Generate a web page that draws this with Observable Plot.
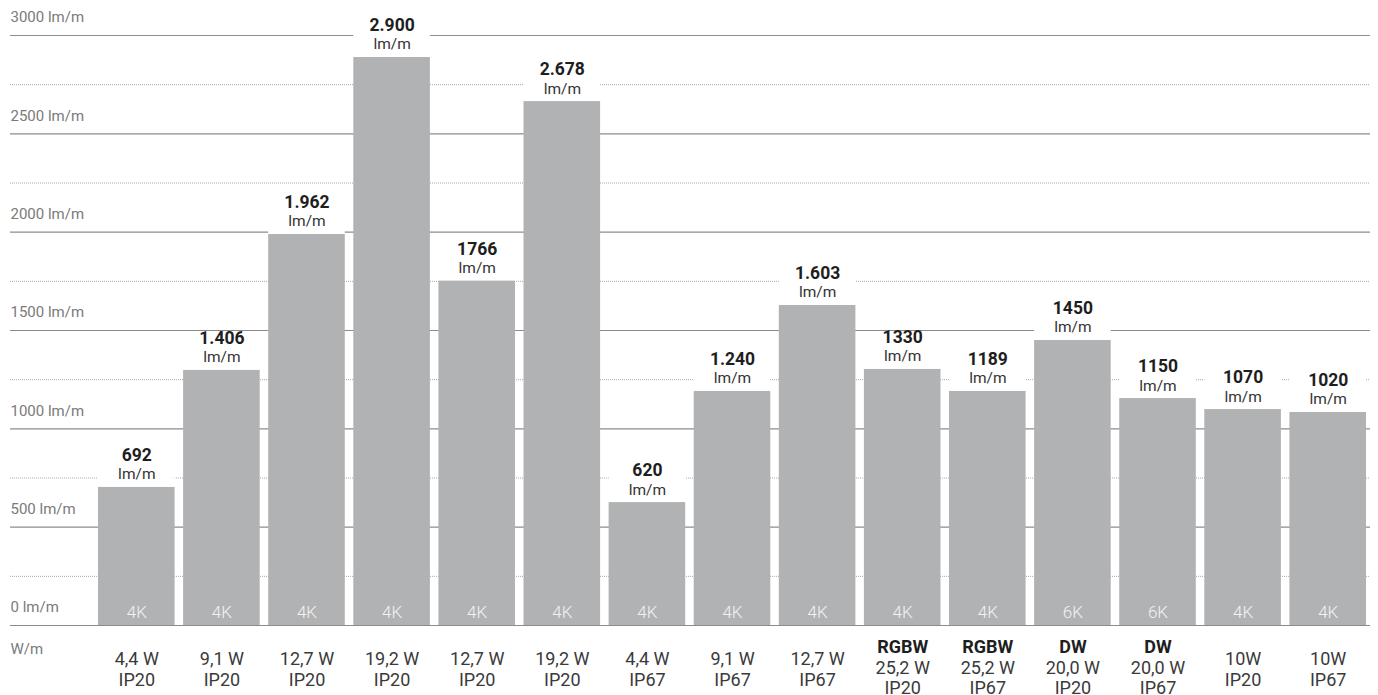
<!DOCTYPE html>
<html>
<head>
<meta charset="utf-8">
<script src="https://cdn.jsdelivr.net/npm/d3@7"></script>
<script src="https://cdn.jsdelivr.net/npm/@observablehq/plot@0.6"></script>
<style>
  html, body { margin: 0; padding: 0; background: #fff; }
  #chart svg { display: block; }
</style>
</head>
<body>
<div id="chart"></div>
<script>
// ---- data ----
const ids        = [1, 2, 3, 4, 5, 6, 7, 8, 9, 10, 11, 12, 13, 14, 15];
const barHeights = [702, 1297, 1988, 2888, 1751, 2664, 625, 1190, 1627, 1302, 1190, 1449, 1154, 1098, 1083];
const valueLabels = ["692", "1.406", "1.962", "2.900", "1766", "2.678", "620", "1.240", "1.603", "1330", "1189", "1450", "1150", "1070", "1020"];
const colorTemps = ["4K", "4K", "4K", "4K", "4K", "4K", "4K", "4K", "4K", "4K", "4K", "6K", "6K", "4K", "4K"];
const types      = ["", "", "", "", "", "", "", "", "", "RGBW", "RGBW", "DW", "DW", "", ""];
const watts      = ["4,4 W", "9,1 W", "12,7 W", "19,2 W", "12,7 W", "19,2 W", "4,4 W", "9,1 W", "12,7 W", "25,2 W", "25,2 W", "20,0 W", "20,0 W", "10W", "10W"];
const protections = ["IP20", "IP20", "IP20", "IP20", "IP20", "IP20", "IP67", "IP67", "IP67", "IP20", "IP67", "IP20", "IP67", "IP20", "IP67"];
const majorTicks = [0, 500, 1000, 1500, 2000, 2500, 3000];
const minorTicks = [250, 750, 1250, 1750, 2250, 2750];
const yUnit = "lm/m";
const xUnit = "W/m";

const data = ids.map((id, i) => ({
  id, h: barHeights[i], label: valueLabels[i], temp: colorTemps[i],
  type: types[i], watt: watts[i], ip: protections[i]
}));
const typed = data.filter(d => d.type);
const untyped = data.filter(d => !d.type);

const barFill = "#b1b2b4";
const labelPad = 185; // white knock-out above each bar (in data units)

const chart = Plot.plot({
  width: 1378,
  height: 695,
  marginLeft: 10,
  marginRight: 8,
  marginTop: 35,
  marginBottom: 70,
  style: { fontFamily: "Roboto, 'DejaVu Sans', sans-serif", background: "#fff" },
  x: { type: "band", domain: ids, range: [98, 1366], paddingInner: 0.1, paddingOuter: 0, round: false, axis: null },
  y: { domain: [0, 3000], range: [625, 35], axis: null },
  marks: [
    Plot.ruleY(minorTicks, { stroke: "#a8a8a8", strokeWidth: 1, strokeDasharray: "1,1" }),
    Plot.ruleY(majorTicks, { stroke: "#8c8c8c", strokeWidth: 1.2 }),
    Plot.text(majorTicks, { y: d => d, frameAnchor: "left", textAnchor: "start", dy: -18, text: d => `${d} ${yUnit}`, fill: "#7a7a7a", fontSize: 15 }),
    Plot.rectY(data, { x: "id", y1: d => d.h, y2: d => d.h + labelPad, fill: "#fff" }),
    Plot.rectY(data, { x: "id", y1: 0, y2: "h", fill: barFill }),
    Plot.text(data, { x: "id", y: "h", text: "label", dy: -32, fontWeight: "bold", fontSize: 17.5, fill: "#1e1e1e" }),
    Plot.text(data, { x: "id", y: "h", text: () => yUnit, dy: -13, fontSize: 15.5, fill: "#333" }),
    Plot.text(data, { x: "id", y: 0, text: "temp", dy: -13, fontSize: 17, fontWeight: 300, fill: "#f2f2f2" }),
    Plot.text([xUnit], { frameAnchor: "left", y: () => 0, textAnchor: "start", dy: 24, text: d => d, fill: "#7a7a7a", fontSize: 15 }),
    Plot.text(typed, { x: "id", y: 0, text: "type", dy: 22, fontWeight: "bold", fontSize: 18, fill: "#1e1e1e" }),
    Plot.text(typed, { x: "id", y: 0, text: "watt", dy: 43, fontSize: 18, fill: "#3a3a3a" }),
    Plot.text(typed, { x: "id", y: 0, text: "ip", dy: 63, fontSize: 18, fill: "#3a3a3a" }),
    Plot.text(untyped, { x: "id", y: 0, text: "watt", dy: 34, fontSize: 18, fill: "#3a3a3a" }),
    Plot.text(untyped, { x: "id", y: 0, text: "ip", dy: 55, fontSize: 18, fill: "#3a3a3a" })
  ]
});
document.getElementById("chart").append(chart);
</script>
</body>
</html>
